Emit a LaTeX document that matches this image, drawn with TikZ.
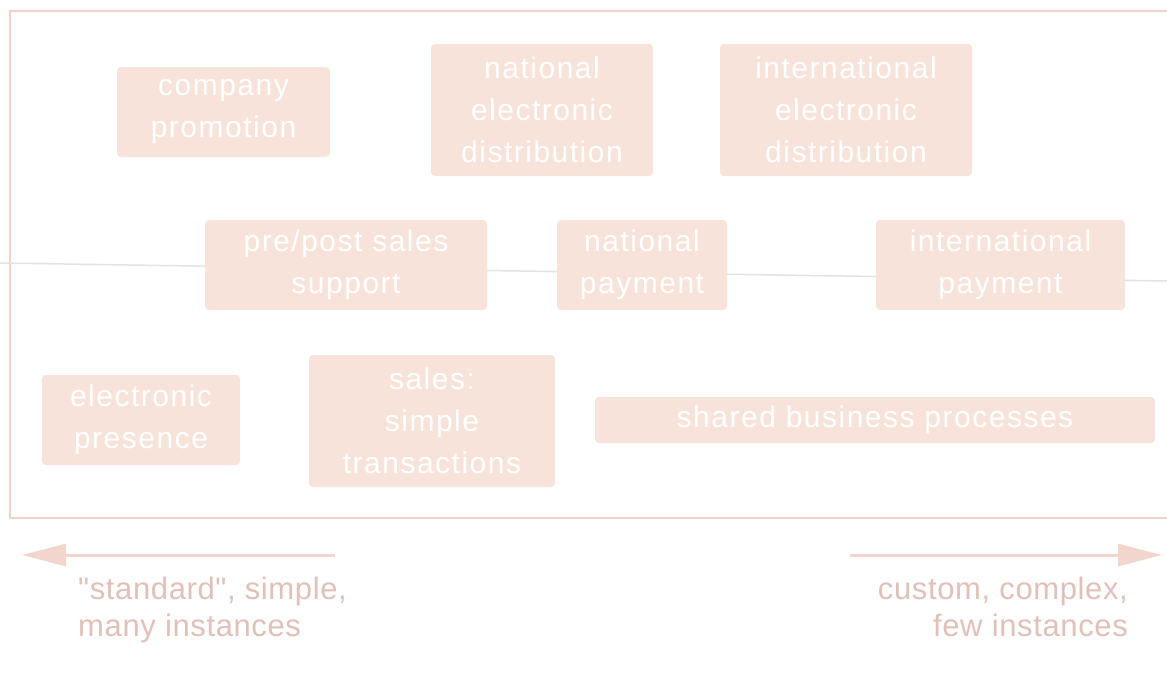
\documentclass[tikz,border=0pt]{standalone}
\usepackage{fontspec}
\setmainfont{Liberation Sans}
% plain family without TeX ligature mapping, so " stays a straight quote
\newfontfamily\notefont[LetterSpace=2]{Liberation Sans}
\usetikzlibrary{arrows.meta}
\definecolor{boxfill}{HTML}{F7E3DA}
\definecolor{framecol}{HTML}{F0D2C8}
\definecolor{axiscol}{HTML}{E4E2E2}
\definecolor{notecol}{HTML}{E0C0B8}
\definecolor{arrowcol}{HTML}{F2D6CE}
\tikzset{
  procbox/.style={draw=none, fill=boxfill, rounded corners=4pt, text=white,
    align=center, inner sep=0pt,
    font=\addfontfeature{LetterSpace=5}\fontsize{30}{42}\selectfont},
  note/.style={text=notecol, inner sep=0pt,
    font=\notefont\fontsize{31}{37}\selectfont},
  scalearrow/.style={draw=arrowcol, line width=3pt,
    -{Triangle[length=44pt,width=22pt,fill=arrowcol]}},
}
\begin{document}
\begin{tikzpicture}[x=1pt,y=-1pt]
\useasboundingbox (0,0) rectangle (1167,683);

% outer frame (open on the right)
\draw[framecol, line width=2pt] (1167,11) -- (10,11) -- (10,518) -- (1167,518);

% faint axis running behind the middle row
\coordinate (axisL) at (0,263);
\coordinate (axisR) at (1167,281);
\draw[axiscol, line width=1.5pt] (axisL) -- (axisR);

% top row
\node[procbox, minimum width=213pt, minimum height=90pt] (promo) at (223.5,112) {company\\promotion};
\node[procbox, minimum width=222pt, minimum height=132pt] (natdist) at (542,110) {national\\electronic\\distribution};
\node[procbox, minimum width=252pt, minimum height=132pt] (intdist) at (846,110) {international\\electronic\\distribution};

% middle row
\node[procbox, minimum width=282pt, minimum height=90pt] (prepost) at (346,265) {pre/post sales\\support};
\node[procbox, minimum width=170pt, minimum height=90pt] (natpay) at (642,265) {national\\payment};
\node[procbox, minimum width=249pt, minimum height=90pt] (intpay) at (1000.5,265) {international\\payment};

% bottom row
\node[procbox, minimum width=198pt, minimum height=90pt] (presence) at (141,420) {electronic\\presence};
\node[procbox, minimum width=246pt, minimum height=132pt] (sales) at (432,421) {sales:\\simple\\transactions};
\node[procbox, minimum width=560pt, minimum height=46pt] (shared) at (875,420) {shared business processes};

% scale arrows
\coordinate (lstart) at (335,555);
\coordinate (lend) at (22,555);
\coordinate (rstart) at (850,555);
\coordinate (rend) at (1162,555);
\draw[scalearrow] (lstart) -- (lend);
\draw[scalearrow] (rstart) -- (rend);

% scale labels
\node[note, anchor=north west, align=left] (simple) at (78,577) {"standard", simple,\\many instances};
\node[note, anchor=north east, align=right] (complex) at (1128,577) {custom, complex,\\few instances};
\end{tikzpicture}
\end{document}
